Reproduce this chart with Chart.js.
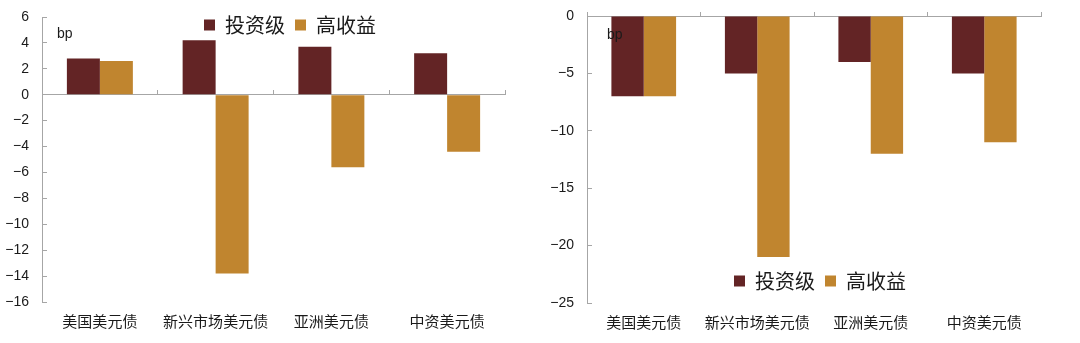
<!DOCTYPE html>
<html>
<head>
<meta charset="utf-8">
<script src="https://cdn.jsdelivr.net/npm/chart.js@4/dist/chart.umd.min.js"></script>
<style>
  html, body { margin: 0; padding: 0; background: #fff; }
  #wrap { position: relative; width: 1080px; height: 343px; display: flex; }
  canvas { display: block; }
</style>
</head>
<body>
<div id="wrap">
  <canvas id="left" width="540" height="343"></canvas>
  <canvas id="right" width="540" height="343"></canvas>
</div>
<script>
  // data
  const categories = ["美国美元债", "新兴市场美元债", "亚洲美元债", "中资美元债"];
  const seriesNames = ["投资级", "高收益"];
  const leftIG = [2.8, 4.2, 3.7, 3.2];
  const leftHY = [2.6, -13.8, -5.6, -4.4];
  const rightIG = [-7, -5, -4, -5];
  const rightHY = [-7, -21, -12, -11];
  const leftRange = [-16, 6, 2];
  const rightRange = [-25, 0, 5];
  const unitLabel = "bp";

  const IG_COLOR = "#632425";
  const HY_COLOR = "#c0852f";
  const AXIS_COLOR = "#a6a6a6";
  const TEXT_COLOR = "#1a1a1a";

  // moves legend / title boxes to spots inside the plot (the library reserves no room for them)
  const placeBoxes = {
    id: "placeBoxes",
    beforeLayout(chart) {
      const tb = chart.titleBlock;
      if (tb && !tb._onTop) {
        // draw "bp" above the bars
        tb._layers = () => [{ z: 1, draw: (area) => tb.draw(area) }];
        tb._onTop = true;
      }
    },
    afterLayout(chart, args, opts) {
      const lg = chart.legend;
      if (lg && opts.legend) {
        const w = 300, h = 40;
        const top = opts.legend.cy - 10 - 12;
        lg.left = opts.legend.cx - w / 2;
        lg.right = lg.left + w;
        lg.width = w;
        lg.top = top;
        lg.bottom = top + h;
        lg.height = h;
      }
      const tb = chart.titleBlock;
      if (tb && opts.title) {
        tb.left = opts.title.x;
        tb.right = tb.left + 60;
        tb.width = 60;
        tb.top = opts.title.cy - 7;
        tb.bottom = tb.top;
      }
    },
  };

  function makeChart(id, ig, hy, range, cfg) {
    const ctx = document.getElementById(id);
    return new Chart(ctx, {
      type: "bar",
      data: {
        labels: categories,
        datasets: [
          {
            label: seriesNames[0],
            data: ig,
            backgroundColor: IG_COLOR,
            borderWidth: 0,
            xAxisID: "x",
            yAxisID: "y",
          },
          {
            label: seriesNames[1],
            data: hy,
            backgroundColor: HY_COLOR,
            borderWidth: 0,
            xAxisID: "x",
            yAxisID: "y",
          },
        ],
      },
      options: {
        responsive: false,
        animation: false,
        devicePixelRatio: 1,
        categoryPercentage: 0.57,
        barPercentage: 1.0,
        layout: {
          padding: { left: 0, right: cfg.padRight, top: cfg.padTop, bottom: 0 },
        },
        plugins: {
          tooltip: { enabled: false },
          legend: {
            display: true,
            position: "top",
            maxHeight: 1,
            labels: {
              boxWidth: 11,
              boxHeight: 11,
              padding: 10,
              color: TEXT_COLOR,
              font: { family: "'Noto Sans CJK SC', sans-serif", size: 20 },
            },
          },
          title: {
            display: true,
            text: unitLabel,
            align: "start",
            position: "top",
            color: TEXT_COLOR,
            padding: { top: 0, bottom: -14 },
            font: { family: "'Liberation Sans', Arial, sans-serif", size: 14, weight: "normal", lineHeight: 1 },
          },
          placeBoxes: cfg.place,
        },
        scales: {
          x: {
            type: "category",
            position: { y: 0 },
            offset: true,
            border: { display: true, color: AXIS_COLOR, width: 1 },
            grid: {
              display: true,
              offset: true,
              drawOnChartArea: false,
              drawTicks: true,
              tickLength: -5,
              color: AXIS_COLOR,
            },
            ticks: { display: false },
          },
          x2: {
            type: "category",
            position: "bottom",
            offset: true,
            border: { display: false },
            grid: { display: false, drawTicks: false },
            ticks: {
              padding: 10,
              color: TEXT_COLOR,
              maxRotation: 0,
              autoSkip: false,
              font: { family: "'Noto Sans CJK SC', sans-serif", size: 15 },
            },
            afterFit(scale) {
              scale.height = cfg.bottomH;
            },
          },
          y: {
            min: range[0],
            max: range[1],
            position: "left",
            border: { display: true, color: AXIS_COLOR, width: 1 },
            grid: {
              display: true,
              drawOnChartArea: false,
              drawTicks: true,
              tickLength: -5,
              color: AXIS_COLOR,
            },
            ticks: {
              stepSize: range[2],
              padding: 18,
              color: TEXT_COLOR,
              font: { family: "'Liberation Sans', Arial, sans-serif", size: 14 },
              callback: (v) => String(v).replace("-", "\u2212"),
            },
            afterFit(scale) {
              scale.width = cfg.axisW;
              scale.paddingTop = 0;
              scale.paddingBottom = 0;
            },
          },
        },
      },
      plugins: [placeBoxes],
    });
  }

  makeChart("left", leftIG, leftHY, leftRange, {
    padRight: 35,
    padTop: 16,
    bottomH: 41,
    axisW: 42,
    place: { legend: { cx: 290, cy: 27 }, title: { x: 57, cy: 34 } },
  });

  makeChart("right", rightIG, rightHY, rightRange, {
    padRight: 39,
    padTop: 15,
    bottomH: 40,
    axisW: 47,
    place: { legend: { cx: 280, cy: 283 }, title: { x: 67, cy: 35 } },
  });
</script>
</body>
</html>
